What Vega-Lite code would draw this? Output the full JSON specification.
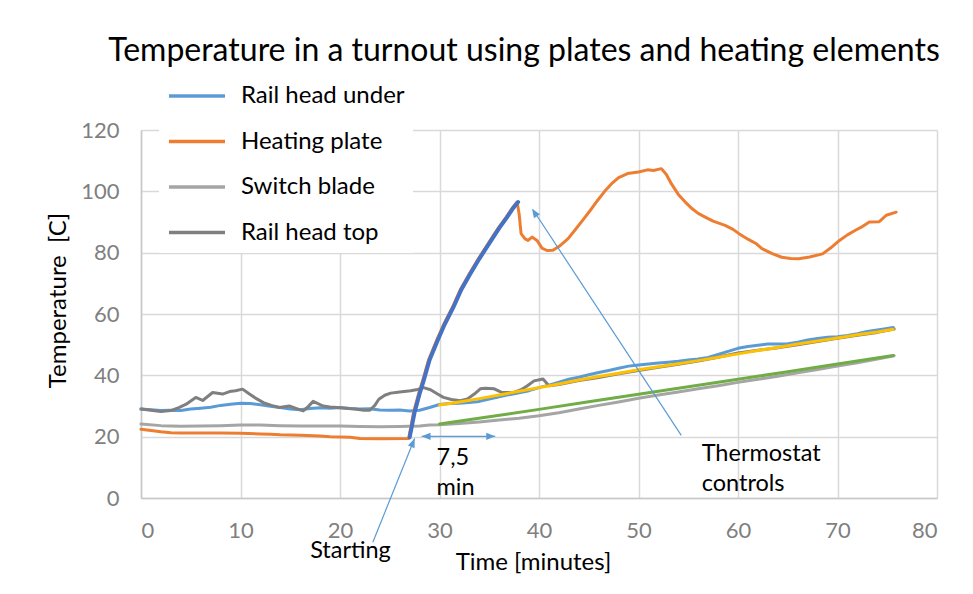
{
  "$schema": "https://vega.github.io/schema/vega-lite/v6.json",
  "width": 796,
  "height": 368,
  "autosize": {"type": "none"},
  "padding": {"left": 141, "top": 130, "right": 36, "bottom": 96},
  "background": "white",
  "config": {"font": "Lato", "view": {"stroke": null}},
  "title": {"text": "Temperature in a turnout using plates and heating elements", "fontSize": 32, "fontWeight": "normal", "color": "black", "anchor": "middle", "frame": "group", "baseline": "middle", "offset": 34, "dy": 59, "dx": -15},
  "datasets": {
    "series": [
      {"s": "Rail head under", "t": 0, "v": 29}, {"s": "Rail head under", "t": 1, "v": 28.8}, {"s": "Rail head under", "t": 2, "v": 28.5}, {"s": "Rail head under", "t": 3, "v": 28.6}, {"s": "Rail head under", "t": 4, "v": 28.5}, {"s": "Rail head under", "t": 5, "v": 29}, {"s": "Rail head under", "t": 6, "v": 29.3}, {"s": "Rail head under", "t": 7, "v": 29.6}, {"s": "Rail head under", "t": 8, "v": 30.2}, {"s": "Rail head under", "t": 9, "v": 30.6}, {"s": "Rail head under", "t": 10, "v": 30.9}, {"s": "Rail head under", "t": 11, "v": 30.8}, {"s": "Rail head under", "t": 12, "v": 30.4}, {"s": "Rail head under", "t": 13, "v": 29.9}, {"s": "Rail head under", "t": 14, "v": 29.5}, {"s": "Rail head under", "t": 15, "v": 29}, {"s": "Rail head under", "t": 16, "v": 28.8}, {"s": "Rail head under", "t": 17, "v": 29.2}, {"s": "Rail head under", "t": 18, "v": 29.4}, {"s": "Rail head under", "t": 19, "v": 29.3}, {"s": "Rail head under", "t": 20, "v": 29.5}, {"s": "Rail head under", "t": 21, "v": 29.2}, {"s": "Rail head under", "t": 22, "v": 29}, {"s": "Rail head under", "t": 23, "v": 29.1}, {"s": "Rail head under", "t": 24, "v": 28.7}, {"s": "Rail head under", "t": 25, "v": 28.6}, {"s": "Rail head under", "t": 26, "v": 28.7}, {"s": "Rail head under", "t": 27, "v": 28.4}, {"s": "Rail head under", "t": 28, "v": 28.6}, {"s": "Rail head under", "t": 29, "v": 29.5}, {"s": "Rail head under", "t": 30, "v": 30.5}, {"s": "Rail head under", "t": 31, "v": 30.8}, {"s": "Rail head under", "t": 32, "v": 30.9}, {"s": "Rail head under", "t": 33, "v": 31.1}, {"s": "Rail head under", "t": 34, "v": 31.5}, {"s": "Rail head under", "t": 35, "v": 32.3}, {"s": "Rail head under", "t": 36, "v": 33}, {"s": "Rail head under", "t": 37, "v": 33.7}, {"s": "Rail head under", "t": 38, "v": 34.3}, {"s": "Rail head under", "t": 39, "v": 35}, {"s": "Rail head under", "t": 40, "v": 36}, {"s": "Rail head under", "t": 41, "v": 36.8}, {"s": "Rail head under", "t": 42, "v": 37.8}, {"s": "Rail head under", "t": 43, "v": 38.7}, {"s": "Rail head under", "t": 44, "v": 39.4}, {"s": "Rail head under", "t": 45, "v": 40.2}, {"s": "Rail head under", "t": 46, "v": 40.9}, {"s": "Rail head under", "t": 47, "v": 41.6}, {"s": "Rail head under", "t": 48, "v": 42.3}, {"s": "Rail head under", "t": 49, "v": 43}, {"s": "Rail head under", "t": 50, "v": 43.4}, {"s": "Rail head under", "t": 51, "v": 43.7}, {"s": "Rail head under", "t": 52, "v": 44}, {"s": "Rail head under", "t": 53, "v": 44.3}, {"s": "Rail head under", "t": 54, "v": 44.6}, {"s": "Rail head under", "t": 55, "v": 45}, {"s": "Rail head under", "t": 56, "v": 45.3}, {"s": "Rail head under", "t": 57, "v": 45.8}, {"s": "Rail head under", "t": 58, "v": 46.8}, {"s": "Rail head under", "t": 59, "v": 47.8}, {"s": "Rail head under", "t": 60, "v": 48.8}, {"s": "Rail head under", "t": 61, "v": 49.4}, {"s": "Rail head under", "t": 62, "v": 49.8}, {"s": "Rail head under", "t": 63, "v": 50.2}, {"s": "Rail head under", "t": 64, "v": 50.2}, {"s": "Rail head under", "t": 65, "v": 50.3}, {"s": "Rail head under", "t": 66, "v": 50.8}, {"s": "Rail head under", "t": 67, "v": 51.5}, {"s": "Rail head under", "t": 68, "v": 52}, {"s": "Rail head under", "t": 69, "v": 52.4}, {"s": "Rail head under", "t": 70, "v": 52.6}, {"s": "Rail head under", "t": 71, "v": 53}, {"s": "Rail head under", "t": 72, "v": 53.6}, {"s": "Rail head under", "t": 73, "v": 54.3}, {"s": "Rail head under", "t": 74, "v": 54.8}, {"s": "Rail head under", "t": 75, "v": 55.3}, {"s": "Rail head under", "t": 75.6, "v": 55.6},

      {"s": "Heating plate", "t": 0, "v": 22.4}, {"s": "Heating plate", "t": 1, "v": 22}, {"s": "Heating plate", "t": 2, "v": 21.6}, {"s": "Heating plate", "t": 3, "v": 21.3}, {"s": "Heating plate", "t": 4, "v": 21.2}, {"s": "Heating plate", "t": 6, "v": 21.2}, {"s": "Heating plate", "t": 8, "v": 21.2}, {"s": "Heating plate", "t": 10, "v": 21.1}, {"s": "Heating plate", "t": 12, "v": 20.9}, {"s": "Heating plate", "t": 13, "v": 20.8}, {"s": "Heating plate", "t": 14, "v": 20.6}, {"s": "Heating plate", "t": 16, "v": 20.5}, {"s": "Heating plate", "t": 18, "v": 20.2}, {"s": "Heating plate", "t": 19, "v": 20}, {"s": "Heating plate", "t": 21, "v": 19.8}, {"s": "Heating plate", "t": 22, "v": 19.4}, {"s": "Heating plate", "t": 24, "v": 19.3}, {"s": "Heating plate", "t": 26.9, "v": 19.4}, {"s": "Heating plate", "t": 27.4, "v": 28}, {"s": "Heating plate", "t": 27.9, "v": 34}, {"s": "Heating plate", "t": 28.3, "v": 38.2}, {"s": "Heating plate", "t": 28.9, "v": 45}, {"s": "Heating plate", "t": 29.7, "v": 51.3}, {"s": "Heating plate", "t": 30.4, "v": 56.5}, {"s": "Heating plate", "t": 31.3, "v": 62.2}, {"s": "Heating plate", "t": 32.1, "v": 68}, {"s": "Heating plate", "t": 33, "v": 73.1}, {"s": "Heating plate", "t": 33.9, "v": 78}, {"s": "Heating plate", "t": 35.1, "v": 84}, {"s": "Heating plate", "t": 35.9, "v": 88}, {"s": "Heating plate", "t": 36.7, "v": 91.6}, {"s": "Heating plate", "t": 37.3, "v": 94.5}, {"s": "Heating plate", "t": 37.8, "v": 96.5}, {"s": "Heating plate", "t": 38, "v": 92.7}, {"s": "Heating plate", "t": 38.2, "v": 86.2}, {"s": "Heating plate", "t": 38.6, "v": 84.5}, {"s": "Heating plate", "t": 38.9, "v": 84}, {"s": "Heating plate", "t": 39.3, "v": 85.1}, {"s": "Heating plate", "t": 39.8, "v": 84}, {"s": "Heating plate", "t": 40.3, "v": 81.5}, {"s": "Heating plate", "t": 40.8, "v": 80.7}, {"s": "Heating plate", "t": 41.4, "v": 80.8}, {"s": "Heating plate", "t": 42, "v": 82}, {"s": "Heating plate", "t": 42.9, "v": 84.5}, {"s": "Heating plate", "t": 43.6, "v": 87.3}, {"s": "Heating plate", "t": 44.5, "v": 91}, {"s": "Heating plate", "t": 45.2, "v": 94}, {"s": "Heating plate", "t": 45.9, "v": 97.1}, {"s": "Heating plate", "t": 46.6, "v": 100}, {"s": "Heating plate", "t": 47.3, "v": 102.5}, {"s": "Heating plate", "t": 48, "v": 104.5}, {"s": "Heating plate", "t": 48.9, "v": 105.8}, {"s": "Heating plate", "t": 50, "v": 106.3}, {"s": "Heating plate", "t": 50.9, "v": 107}, {"s": "Heating plate", "t": 51.5, "v": 106.8}, {"s": "Heating plate", "t": 52.3, "v": 107.4}, {"s": "Heating plate", "t": 52.8, "v": 105.5}, {"s": "Heating plate", "t": 53.3, "v": 102.5}, {"s": "Heating plate", "t": 54, "v": 99}, {"s": "Heating plate", "t": 54.7, "v": 96.5}, {"s": "Heating plate", "t": 55.4, "v": 94.3}, {"s": "Heating plate", "t": 56, "v": 92.8}, {"s": "Heating plate", "t": 56.7, "v": 91.6}, {"s": "Heating plate", "t": 57.5, "v": 90.3}, {"s": "Heating plate", "t": 58.7, "v": 88.9}, {"s": "Heating plate", "t": 59.5, "v": 87.6}, {"s": "Heating plate", "t": 60.1, "v": 86.2}, {"s": "Heating plate", "t": 61, "v": 84.4}, {"s": "Heating plate", "t": 61.8, "v": 83}, {"s": "Heating plate", "t": 62.4, "v": 81.3}, {"s": "Heating plate", "t": 63.5, "v": 79.6}, {"s": "Heating plate", "t": 64.4, "v": 78.5}, {"s": "Heating plate", "t": 65.3, "v": 78.1}, {"s": "Heating plate", "t": 66.1, "v": 78}, {"s": "Heating plate", "t": 67.2, "v": 78.6}, {"s": "Heating plate", "t": 68.5, "v": 79.6}, {"s": "Heating plate", "t": 69.3, "v": 81.5}, {"s": "Heating plate", "t": 70.2, "v": 84}, {"s": "Heating plate", "t": 71, "v": 85.8}, {"s": "Heating plate", "t": 71.8, "v": 87.3}, {"s": "Heating plate", "t": 72.5, "v": 88.5}, {"s": "Heating plate", "t": 73.2, "v": 90}, {"s": "Heating plate", "t": 74.2, "v": 90.1}, {"s": "Heating plate", "t": 74.9, "v": 92.2}, {"s": "Heating plate", "t": 75.9, "v": 93.2},

      {"s": "Switch blade", "t": 0, "v": 24.1}, {"s": "Switch blade", "t": 2, "v": 23.6}, {"s": "Switch blade", "t": 4, "v": 23.4}, {"s": "Switch blade", "t": 6, "v": 23.5}, {"s": "Switch blade", "t": 8, "v": 23.6}, {"s": "Switch blade", "t": 10, "v": 23.8}, {"s": "Switch blade", "t": 12, "v": 23.8}, {"s": "Switch blade", "t": 14, "v": 23.6}, {"s": "Switch blade", "t": 16, "v": 23.5}, {"s": "Switch blade", "t": 18, "v": 23.5}, {"s": "Switch blade", "t": 20, "v": 23.5}, {"s": "Switch blade", "t": 22, "v": 23.3}, {"s": "Switch blade", "t": 24, "v": 23.2}, {"s": "Switch blade", "t": 26, "v": 23.3}, {"s": "Switch blade", "t": 28, "v": 23.5}, {"s": "Switch blade", "t": 29, "v": 23.8}, {"s": "Switch blade", "t": 30, "v": 23.9}, {"s": "Switch blade", "t": 32, "v": 24.3}, {"s": "Switch blade", "t": 34, "v": 24.8}, {"s": "Switch blade", "t": 36, "v": 25.4}, {"s": "Switch blade", "t": 38, "v": 26}, {"s": "Switch blade", "t": 40, "v": 26.8}, {"s": "Switch blade", "t": 42, "v": 27.8}, {"s": "Switch blade", "t": 44, "v": 29}, {"s": "Switch blade", "t": 46, "v": 30.2}, {"s": "Switch blade", "t": 48, "v": 31.3}, {"s": "Switch blade", "t": 50, "v": 32.5}, {"s": "Switch blade", "t": 52, "v": 33.6}, {"s": "Switch blade", "t": 54, "v": 34.6}, {"s": "Switch blade", "t": 56, "v": 35.6}, {"s": "Switch blade", "t": 58, "v": 36.6}, {"s": "Switch blade", "t": 60, "v": 37.7}, {"s": "Switch blade", "t": 62, "v": 38.7}, {"s": "Switch blade", "t": 64, "v": 39.7}, {"s": "Switch blade", "t": 66, "v": 40.8}, {"s": "Switch blade", "t": 68, "v": 41.9}, {"s": "Switch blade", "t": 70, "v": 43}, {"s": "Switch blade", "t": 72, "v": 44.1}, {"s": "Switch blade", "t": 74, "v": 45.3}, {"s": "Switch blade", "t": 75.7, "v": 46.4},

      {"s": "Rail head top", "t": 0, "v": 29}, {"s": "Rail head top", "t": 1, "v": 28.6}, {"s": "Rail head top", "t": 2, "v": 28.2}, {"s": "Rail head top", "t": 3, "v": 28.5}, {"s": "Rail head top", "t": 3.8, "v": 29.5}, {"s": "Rail head top", "t": 4.5, "v": 30.5}, {"s": "Rail head top", "t": 5.5, "v": 32.8}, {"s": "Rail head top", "t": 6.2, "v": 31.8}, {"s": "Rail head top", "t": 7.2, "v": 34.4}, {"s": "Rail head top", "t": 8.2, "v": 33.9}, {"s": "Rail head top", "t": 8.9, "v": 34.7}, {"s": "Rail head top", "t": 9.5, "v": 35}, {"s": "Rail head top", "t": 10.2, "v": 35.5}, {"s": "Rail head top", "t": 10.9, "v": 33.9}, {"s": "Rail head top", "t": 11.6, "v": 32.4}, {"s": "Rail head top", "t": 12.3, "v": 31.1}, {"s": "Rail head top", "t": 13.1, "v": 30.2}, {"s": "Rail head top", "t": 13.9, "v": 29.5}, {"s": "Rail head top", "t": 14.9, "v": 30}, {"s": "Rail head top", "t": 15.5, "v": 29.3}, {"s": "Rail head top", "t": 16.3, "v": 28.4}, {"s": "Rail head top", "t": 16.8, "v": 29.8}, {"s": "Rail head top", "t": 17.3, "v": 31.5}, {"s": "Rail head top", "t": 18.3, "v": 30}, {"s": "Rail head top", "t": 19, "v": 29.7}, {"s": "Rail head top", "t": 19.7, "v": 29.5}, {"s": "Rail head top", "t": 20.5, "v": 29.3}, {"s": "Rail head top", "t": 21.5, "v": 29}, {"s": "Rail head top", "t": 22.4, "v": 28.6}, {"s": "Rail head top", "t": 23, "v": 28.6}, {"s": "Rail head top", "t": 23.5, "v": 30.2}, {"s": "Rail head top", "t": 23.9, "v": 32.2}, {"s": "Rail head top", "t": 24.5, "v": 33.5}, {"s": "Rail head top", "t": 25.1, "v": 34.2}, {"s": "Rail head top", "t": 26, "v": 34.6}, {"s": "Rail head top", "t": 27.1, "v": 35}, {"s": "Rail head top", "t": 27.8, "v": 35.4}, {"s": "Rail head top", "t": 28.4, "v": 36}, {"s": "Rail head top", "t": 29.1, "v": 35.3}, {"s": "Rail head top", "t": 29.8, "v": 33.9}, {"s": "Rail head top", "t": 30.4, "v": 32.8}, {"s": "Rail head top", "t": 31.2, "v": 32.1}, {"s": "Rail head top", "t": 32.1, "v": 31.7}, {"s": "Rail head top", "t": 32.8, "v": 32.3}, {"s": "Rail head top", "t": 33.5, "v": 33.9}, {"s": "Rail head top", "t": 34.1, "v": 35.6}, {"s": "Rail head top", "t": 34.6, "v": 35.8}, {"s": "Rail head top", "t": 35.5, "v": 35.6}, {"s": "Rail head top", "t": 36.2, "v": 34.5}, {"s": "Rail head top", "t": 36.8, "v": 34.4}, {"s": "Rail head top", "t": 37.5, "v": 34.4}, {"s": "Rail head top", "t": 38.2, "v": 35.3}, {"s": "Rail head top", "t": 38.8, "v": 36.5}, {"s": "Rail head top", "t": 39.5, "v": 38.2}, {"s": "Rail head top", "t": 40.4, "v": 38.8}, {"s": "Rail head top", "t": 41, "v": 36.6}, {"s": "Rail head top", "t": 42, "v": 37}, {"s": "Rail head top", "t": 44, "v": 38.3}, {"s": "Rail head top", "t": 46, "v": 39.3}, {"s": "Rail head top", "t": 48, "v": 40.5}, {"s": "Rail head top", "t": 50, "v": 41.6}, {"s": "Rail head top", "t": 52, "v": 42.6}, {"s": "Rail head top", "t": 54, "v": 43.6}, {"s": "Rail head top", "t": 56, "v": 44.7}, {"s": "Rail head top", "t": 58, "v": 45.9}, {"s": "Rail head top", "t": 60, "v": 47.3}, {"s": "Rail head top", "t": 62, "v": 48.2}, {"s": "Rail head top", "t": 64, "v": 49}, {"s": "Rail head top", "t": 66, "v": 50}, {"s": "Rail head top", "t": 68, "v": 51}, {"s": "Rail head top", "t": 70, "v": 52.1}, {"s": "Rail head top", "t": 72, "v": 53.1}, {"s": "Rail head top", "t": 74, "v": 54}, {"s": "Rail head top", "t": 75.7, "v": 55.1},

      {"s": "Trend top", "t": 30, "v": 30.3}, {"s": "Trend top", "t": 32, "v": 31.3}, {"s": "Trend top", "t": 34, "v": 32.4}, {"s": "Trend top", "t": 36, "v": 33.6}, {"s": "Trend top", "t": 38, "v": 34.8}, {"s": "Trend top", "t": 40, "v": 36}, {"s": "Trend top", "t": 42, "v": 37.2}, {"s": "Trend top", "t": 44, "v": 38.5}, {"s": "Trend top", "t": 46, "v": 39.6}, {"s": "Trend top", "t": 48, "v": 40.7}, {"s": "Trend top", "t": 50, "v": 41.8}, {"s": "Trend top", "t": 52, "v": 42.8}, {"s": "Trend top", "t": 54, "v": 43.8}, {"s": "Trend top", "t": 56, "v": 44.8}, {"s": "Trend top", "t": 58, "v": 45.9}, {"s": "Trend top", "t": 60, "v": 47}, {"s": "Trend top", "t": 62, "v": 48.1}, {"s": "Trend top", "t": 64, "v": 49.1}, {"s": "Trend top", "t": 66, "v": 50.2}, {"s": "Trend top", "t": 68, "v": 51.2}, {"s": "Trend top", "t": 70, "v": 52.2}, {"s": "Trend top", "t": 72, "v": 53.2}, {"s": "Trend top", "t": 74, "v": 54.1}, {"s": "Trend top", "t": 75.6, "v": 55},

      {"s": "Trend blade", "t": 30, "v": 24.1}, {"s": "Trend blade", "t": 35, "v": 26.5}, {"s": "Trend blade", "t": 40, "v": 28.9}, {"s": "Trend blade", "t": 45, "v": 31.4}, {"s": "Trend blade", "t": 50, "v": 33.8}, {"s": "Trend blade", "t": 55, "v": 36.3}, {"s": "Trend blade", "t": 60, "v": 38.7}, {"s": "Trend blade", "t": 65, "v": 41.2}, {"s": "Trend blade", "t": 70, "v": 43.7}, {"s": "Trend blade", "t": 75.6, "v": 46.5}
    ],
    "rise": [
      {"t": 27.0, "v": 19.8}, {"t": 27.5, "v": 28}, {"t": 28.0, "v": 34}, {"t": 28.4, "v": 38.2}, {"t": 29.0, "v": 45}, {"t": 29.8, "v": 51.3}, {"t": 30.5, "v": 56.5}, {"t": 31.4, "v": 62.2}, {"t": 32.2, "v": 68}, {"t": 33.1, "v": 73.1}, {"t": 34.0, "v": 78}, {"t": 35.2, "v": 84}, {"t": 36.0, "v": 88}, {"t": 36.8, "v": 91.6}, {"t": 37.4, "v": 94.5}, {"t": 37.9, "v": 96.5}
    ],
    "arrows": [
      {"x": 23.3, "y": -14.4, "x2": 27.5, "y2": 19.4},
      {"x": 28.2, "y": 20.1, "x2": 35.6, "y2": 20.1},
      {"x": 54.3, "y": 20.4, "x2": 39.4, "y2": 94.0}
    ],
    "notes": [
      {"x": 17.0, "y": -17.4, "label": "Starting"},
      {"x": 29.7, "y": 12.9, "label": "7,5"},
      {"x": 29.7, "y": 3.2, "label": "min"},
      {"x": 56.35, "y": 14.5, "label": "Thermostat"},
      {"x": 56.35, "y": 4.7, "label": "controls"}
    ]
  },
  "layer": [
    {
      "data": {"name": "series"},
      "mark": {"type": "line", "strokeWidth": 3, "strokeCap": "round", "strokeJoin": "round"},
      "encoding": {
        "x": {"field": "t", "type": "quantitative", "scale": {"domain": [0, 80], "nice": false},
          "axis": {"title": "Time [minutes]", "values": [0, 10, 20, 30, 40, 50, 60, 70, 80], "grid": true, "gridColor": "#d9d9d9", "gridWidth": 1.5, "domainColor": "#c8c8c8", "domainWidth": 1.5, "ticks": false, "labelFontSize": 22, "labelColor": "#7f7f7f", "labelPadding": 22, "titleFontSize": 24, "titleFontWeight": "normal", "titleColor": "black", "titleX": 392, "titleY": 64, "titleBaseline": "middle"}},
        "y": {"field": "v", "type": "quantitative", "scale": {"domain": [0, 120], "nice": false},
          "axis": {"title": "Temperature \u00a0[C]", "values": [0, 20, 40, 60, 80, 100, 120], "grid": true, "gridColor": "#d9d9d9", "gridWidth": 1.5, "domainColor": "#c8c8c8", "domainWidth": 1.5, "ticks": false, "labelFontSize": 22, "labelColor": "#7f7f7f", "labelPadding": 22, "titleFontSize": 24, "titleFontWeight": "normal", "titleColor": "black", "titleX": -83, "titleY": 170, "titleBaseline": "middle", "titleAlign": "center"}},
        "color": {"field": "s", "type": "nominal",
          "scale": {"domain": ["Rail head under", "Heating plate", "Switch blade", "Rail head top", "Trend top", "Trend blade"], "range": ["#5B9BD5", "#ED7D31", "#A5A5A5", "#7F7F7F", "#FFC000", "#70AD47"]},
          "sort": null,
          "legend": {"values": ["Rail head under", "Heating plate", "Switch blade", "Rail head top"], "orient": "none", "legendX": 18, "legendY": -72, "fillColor": "white", "padding": 8, "title": null, "symbolType": "stroke", "symbolSize": 3136, "symbolStrokeWidth": 3.5, "labelFontSize": 24, "labelLimit": 400, "labelColor": "black", "labelOffset": 14, "rowPadding": 3.5}}
      }
    },
    {
      "data": {"name": "rise"},
      "mark": {"type": "line", "strokeWidth": 4, "color": "#4472C4", "strokeCap": "round"},
      "encoding": {"x": {"field": "t", "type": "quantitative"}, "y": {"field": "v", "type": "quantitative"}}
    },
    {
      "data": {"name": "arrows"},
      "mark": {"type": "rule", "color": "#5B9BD5", "strokeWidth": 1.2},
      "encoding": {"x": {"field": "x", "type": "quantitative"}, "y": {"field": "y", "type": "quantitative"}, "x2": {"field": "x2"}, "y2": {"field": "y2"}}
    },
    {
      "data": {"values": [{"x": 27.5, "y": 19.4}]},
      "mark": {"type": "point", "shape": "M0,0L-0.8,2L0.8,2Z", "filled": true, "opacity": 1, "size": 80, "angle": 22, "color": "#5B9BD5", "strokeWidth": 0},
      "encoding": {"x": {"field": "x", "type": "quantitative"}, "y": {"field": "y", "type": "quantitative"}}
    },
    {
      "data": {"values": [{"x": 28.2, "y": 20.1}]},
      "mark": {"type": "point", "shape": "M0,0L-0.8,2L0.8,2Z", "filled": true, "opacity": 1, "size": 80, "angle": 270, "color": "#5B9BD5", "strokeWidth": 0},
      "encoding": {"x": {"field": "x", "type": "quantitative"}, "y": {"field": "y", "type": "quantitative"}}
    },
    {
      "data": {"values": [{"x": 35.6, "y": 20.1}]},
      "mark": {"type": "point", "shape": "M0,0L-0.8,2L0.8,2Z", "filled": true, "opacity": 1, "size": 80, "angle": 90, "color": "#5B9BD5", "strokeWidth": 0},
      "encoding": {"x": {"field": "x", "type": "quantitative"}, "y": {"field": "y", "type": "quantitative"}}
    },
    {
      "data": {"values": [{"x": 39.3, "y": 94.3}]},
      "mark": {"type": "point", "shape": "M0,0L-0.8,2L0.8,2Z", "filled": true, "opacity": 1, "size": 80, "angle": 326.7, "color": "#5B9BD5", "strokeWidth": 0},
      "encoding": {"x": {"field": "x", "type": "quantitative"}, "y": {"field": "y", "type": "quantitative"}}
    },
    {
      "data": {"name": "notes"},
      "mark": {"type": "text", "align": "left", "baseline": "middle", "fontSize": 23.5, "color": "black"},
      "encoding": {"x": {"field": "x", "type": "quantitative"}, "y": {"field": "y", "type": "quantitative"}, "text": {"field": "label"}}
    }
  ]
}
